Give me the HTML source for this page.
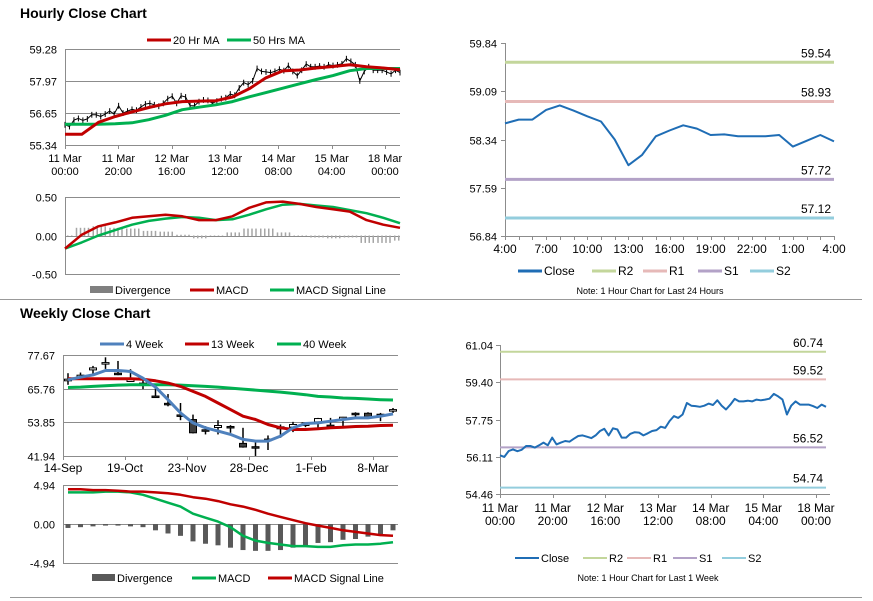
<!DOCTYPE html>
<html><head><meta charset="utf-8"><style>
body{margin:0;background:#fff;}
svg{display:block;font-family:"Liberation Sans",Arial,sans-serif;}
</style></head><body>
<svg id="s" width="873" height="601" viewBox="0 0 873 601" xmlns="http://www.w3.org/2000/svg">
<text x="20" y="18" font-size="14" font-weight="bold" fill="#000">Hourly Close Chart</text>
<text x="20" y="318" font-size="14" font-weight="bold" fill="#000">Weekly Close Chart</text>
<line x1="0" y1="299.5" x2="862" y2="299.5" stroke="#999"/>
<line x1="10" y1="597.5" x2="862" y2="597.5" stroke="#999"/>
</svg>
<script>
// ---------- data ----------
const weekClose = [56.17,56.10,56.36,56.43,56.35,56.41,56.58,56.58,56.51,56.61,56.73,56.61,56.95,56.65,56.73,56.80,56.77,56.90,57.02,57.05,56.99,56.93,57.05,57.24,57.34,57.05,57.36,57.31,56.95,56.95,57.12,57.19,57.17,57.05,57.14,57.24,57.28,57.43,57.38,57.68,57.90,57.82,57.97,58.48,58.36,58.34,58.31,58.36,58.45,58.39,58.60,58.36,58.19,58.41,58.66,58.55,58.55,58.58,58.55,58.63,58.60,58.63,58.67,58.88,58.77,58.63,57.97,58.36,58.55,58.41,58.41,58.41,58.34,58.26,58.41,58.31];
const ma20 = [55.78,55.78,56.27,56.51,56.70,56.88,57.03,57.12,57.14,57.16,57.31,57.65,58.10,58.38,58.42,58.50,58.56,58.63,58.55,58.50,58.43];
const ma50 = [56.19,56.19,56.19,56.21,56.25,56.38,56.56,56.79,56.89,56.99,57.12,57.32,57.49,57.67,57.85,58.03,58.19,58.39,58.48,58.48,58.48];
const hMacd = [-0.17,0.01,0.12,0.17,0.23,0.25,0.27,0.25,0.20,0.20,0.25,0.36,0.43,0.44,0.41,0.37,0.34,0.31,0.20,0.14,0.10];
const hSignal = [-0.17,-0.09,0.00,0.07,0.14,0.19,0.22,0.24,0.23,0.20,0.21,0.27,0.34,0.40,0.41,0.39,0.37,0.33,0.29,0.23,0.16];
const hDiv = [0,0.10,0.12,0.10,0.09,0.06,0.05,0.01,-0.03,0,0.04,0.09,0.09,0.04,0,-0.02,-0.03,-0.02,-0.09,-0.09,-0.06];
const hourCats = ["4:00","5:00","6:00","7:00","8:00","9:00","10:00","11:00","12:00","13:00","14:00","15:00","16:00","17:00","18:00","19:00","20:00","21:00","22:00","23:00","0:00","1:00","2:00","3:00","4:00"];
const dayClose = [58.59,58.65,58.65,58.80,58.87,58.79,58.70,58.62,58.34,57.94,58.10,58.39,58.48,58.56,58.51,58.41,58.42,58.39,58.39,58.39,58.41,58.23,58.32,58.41,58.31];
const dayLevels = [59.54,58.93,57.72,57.12];
const weekLevels = [60.74,59.52,56.52,54.74];
const levelNames = ["R2","R1","S1","S2"];
const levelColors = ["#c3d69b","#e6b9b8","#b3a2c7","#93cddd"];
const hourTicks = [["11 Mar","00:00"],["11 Mar","20:00"],["12 Mar","16:00"],["13 Mar","12:00"],["14 Mar","08:00"],["15 Mar","04:00"],["18 Mar","00:00"]];
const wOpen = [68.54,69.82,72.40,74.51,71.23,68.30,67.72,63.15,60.57,56.47,54.84,51.21,52.03,52.38,46.40,45.23,47.93,51.56,52.14,52.73,54.02,52.84,54.84,57.06,57.06,56.71,57.88];
const wClose = [69.12,70.53,73.10,74.98,70.76,69.47,67.37,62.92,60.34,56.24,50.15,50.97,52.73,51.91,45.12,45.00,47.69,52.26,53.08,53.66,55.19,52.61,55.66,56.83,55.77,56.47,58.35];
const wHigh = [71.23,71.46,73.81,76.85,75.56,72.63,68.89,66.78,63.85,60.69,56.59,52.49,54.60,52.84,51.91,46.87,49.21,53.08,54.02,53.90,55.42,55.42,55.77,57.41,57.41,57.18,58.93];
const wLow = [67.13,68.89,71.00,72.75,70.53,68.18,65.61,62.68,59.52,54.60,49.92,49.57,49.57,50.15,44.88,41.95,44.06,48.39,50.39,52.14,51.56,52.14,51.91,55.42,55.19,54.25,57.18];
const wk4 = [68.89,69.82,70.64,72.17,72.17,71.82,69.47,66.31,61.86,57.18,53.66,51.91,50.74,49.57,47.81,47.22,47.22,48.98,51.91,53.43,53.66,54.25,54.84,55.42,55.42,56.01,56.83];
const wk13 = [69.24,69.24,69.24,69.24,69.24,69.24,69.12,68.54,67.72,66.55,64.79,63.03,60.69,58.35,56.01,54.84,53.08,51.91,51.32,51.32,51.56,51.91,52.14,52.38,52.49,52.73,52.84];
const wk40 = [66.19,66.31,66.55,66.78,67.01,67.13,67.13,67.13,67.13,67.01,66.78,66.55,66.31,65.96,65.61,65.26,64.91,64.55,64.09,63.62,63.03,62.80,62.45,62.33,62.10,61.86,61.74];
const wMacd = [4.0,4.0,4.0,4.1,4.1,4.0,3.7,3.2,2.7,2.2,1.3,0.8,0.3,-0.4,-1.5,-2.1,-2.4,-2.6,-2.8,-2.8,-2.9,-2.9,-2.7,-2.6,-2.6,-2.5,-2.3];
const wSignal = [4.4,4.4,4.3,4.3,4.2,4.1,4.1,4.0,3.9,3.7,3.4,3.2,2.9,2.5,2.2,1.8,1.3,0.9,0.5,0.1,-0.2,-0.5,-0.8,-1.0,-1.2,-1.4,-1.5];
const wDiv = [-0.5,-0.4,-0.3,-0.2,-0.2,-0.3,-0.4,-0.8,-1.2,-1.5,-2.2,-2.5,-2.7,-3.0,-3.3,-3.4,-3.4,-3.3,-3.0,-2.7,-2.4,-2.3,-2.0,-1.9,-1.6,-1.3,-0.8];
const weekTicks = ["14-Sep","19-Oct","23-Nov","28-Dec","1-Feb","8-Mar"];

// ---------- helpers ----------
const S = document.getElementById('s');
const NS = 'http://www.w3.org/2000/svg';
function mk(tag, attrs){ const e=document.createElementNS(NS,tag); for(const k in attrs) e.setAttribute(k,attrs[k]); S.appendChild(e); return e; }
function lin(d0,d1,r0,r1){ return v => r0 + (v-d0)/(d1-d0)*(r1-r0); }
function txt(x,y,s,anchor,size){ const t=mk('text',{x:x,y:y,'font-size':size||11,'text-anchor':anchor||'start',fill:'#000'}); t.textContent=s; return t; }
function poly(vals, xf, yf, color, w, name){
  const p = vals.map((v,i)=>xf(i).toFixed(1)+','+yf(v).toFixed(1)).join(' ');
  const e = mk('polyline',{points:p,fill:'none',stroke:color,'stroke-width':w,'stroke-linejoin':'round'});
  
  
  return e;
}
function hl(x1,x2,y,color,w){ return mk('line',{x1:x1,x2:x2,y1:y,y2:y,stroke:color,'stroke-width':w||1}); }
function vl(x,y1,y2,color,w){ return mk('line',{x1:x,x2:x,y1:y1,y2:y2,stroke:color,'stroke-width':w||1}); }
function legendLine(x,y,color,label,w,name,size){
  const l = hl(x,x+24,y,color,w||3);
  
  
  const t = txt(x+26,y+4,label,'start',size||11);
  
  
}
function yAxisGrid(vals, yf, x0, x1, lx, grid){
  vals.forEach(v=>{
    const y=Math.round(yf(v))+0.5;
    if(grid) hl(x0,x1,y,'#8c8c8c',1); else hl(x0-4,x0,y,'#8c8c8c',1);
    const t=txt(lx,y+4,v.toFixed(2),'end');
    
    
  });
}

// ---------- Chart A: hourly price ----------
(function(){
  const x0=65,x1=400, yA=lin(55.34,59.28,145,49);
  yAxisGrid([59.28,57.97,56.65,55.34], yA, x0, x1, 57, true);
  vl(x0+0.5,49,149,'#8c8c8c');
  hourTicks.forEach((t,i)=>{
    const x = x0 + i*(x1-x0-15)/6;
    vl(Math.round(x)+0.5,145,149,'#8c8c8c');
    const a=txt(x,162,t[0],'middle');  
    const b=txt(x,175,t[1],'middle');  
  });
  const xc = i => x0 + i*(x1-x0)/(weekClose.length-1);
  weekClose.forEach((v,i)=>{
    const w=vl(xc(i),yA(v+0.12),yA(v-0.12),'#000',1);
    
    
  });
  poly(weekClose, xc, yA, '#000', 1, 'close-price-line');
  const xm = i => x0 + i*(x1-x0)/(ma20.length-1);
  poly(ma50, xm, yA, '#00b050', 3, 'ma-50-line');
  poly(ma20, xm, yA, '#c00000', 3, 'ma-20-line');
  legendLine(147,40,'#c00000','20 Hr MA',3,'legend-20hr-ma');
  legendLine(227,40,'#00b050','50 Hrs MA',3,'legend-50hrs-ma');
})();

// ---------- Chart B: hourly MACD ----------
(function(){
  const x0=65,x1=400, yB=lin(-0.5,0.5,274,197);
  yAxisGrid([0.5,0,-0.5], yB, x0, x1, 57, true);
  vl(x0+0.5,197,274,'#8c8c8c');
  const xm = i => x0 + i*(x1-x0)/(hDiv.length-1);
  hDiv.forEach((v,i)=>{
    for(let k=0;k<4;k++){
      const bx = xm(i) - 6 + k*4;
      if(bx<x0+2||bx>x1) continue;
      const b=mk('rect',{x:bx,y:Math.min(yB(0),yB(v)),width:1.5,height:Math.abs(yB(v)-yB(0))+0.5,fill:'#a6a6a6'});
      
      
    }
  });
  poly(hSignal, xm, yB, '#00b050', 2.5, 'macd-signal-line');
  poly(hMacd, xm, yB, '#c00000', 2.5, 'macd-line');
  const r=mk('rect',{x:90,y:286,width:23,height:7,fill:'#7f7f7f'});  
  const t=txt(115,294,'Divergence');  
  legendLine(190,290,'#c00000','MACD',3,'legend-macd');
  legendLine(270,290,'#00b050','MACD Signal Line',3,'legend-macd-signal');
})();

// ---------- Chart C: last 24 hours ----------
(function(){
  const x0=505,x1=834, yC=lin(56.84,59.84,236,43);
  yAxisGrid([59.84,59.09,58.34,57.59,56.84], yC, x0, x1, 497, false);
  vl(x0+0.5,43,236,'#8c8c8c'); hl(x0,x1,236.5,'#8c8c8c');
  const xc = i => x0 + i*(x1-x0)/(hourCats.length-1);
  hourCats.forEach((c,i)=>{ vl(Math.round(xc(i))+0.5,236,240,'#8c8c8c');
    if(i%3===0){ const t=txt(xc(i),253,c,'middle',12);   } });
  dayLevels.forEach((v,i)=>{
    const l=hl(x0,x1,yC(v),levelColors[i],3);
    
    
    const t=txt(x1-3,yC(v)-5,v.toFixed(2),'end',12);
    
    
  });
  poly(dayClose, xc, yC, '#1f6db5', 2, 'close-line-24h');
  legendLine(518,271,'#1f6db5','Close',3,'legend-close',12);
  const lx=[592,643,698,750];
  levelNames.forEach((n,i)=>legendLine(lx[i],271,levelColors[i],n,3,'legend-'+n.toLowerCase(),12));
  const n=txt(650,294,'Note: 1 Hour Chart for Last 24 Hours','middle',9);  
})();

// ---------- Chart D: last week ----------
(function(){
  const x0=500,x1=826, yD=lin(54.46,61.04,494,345);
  yAxisGrid([61.04,59.40,57.75,56.11,54.46], yD, x0, x1, 493, false);
  vl(x0+0.5,345,494,'#8c8c8c'); hl(x0,x1+4,494.5,'#8c8c8c');
  hourTicks.forEach((t,i)=>{
    const x = x0 + i*(x1-x0-10)/6;
    vl(Math.round(x)+0.5,494,498,'#8c8c8c');
    const a=txt(x,512,t[0],'middle',12);  
    const b=txt(x,525,t[1],'middle',12);  
  });
  weekLevels.forEach((v,i)=>{
    const l=hl(x0,x1,yD(v),levelColors[i],2);
    
    
    const t=txt(x1-3,yD(v)-5,v.toFixed(2),'end',12);
    
    
  });
  const xc = i => x0 + i*(x1-x0)/(weekClose.length-1);
  poly(weekClose, xc, yD, '#1f6db5', 2, 'close-line-week');
  legendLine(515,558,'#1f6db5','Close',2,'legend-close-week');
  const lx=[583,627,673,722];
  levelNames.forEach((n,i)=>legendLine(lx[i],558,levelColors[i],n,2,'legend-week-'+n.toLowerCase()));
  const n=txt(648,581,'Note: 1 Hour Chart for Last 1 Week','middle',9);  
})();

// ---------- Chart E: weekly candles ----------
(function(){
  const x0=63,x1=398, yE=lin(41.94,77.67,456,355);
  yAxisGrid([77.67,65.76,53.85,41.94], yE, x0, x1, 55, true);
  vl(x0+0.5,355,456,'#8c8c8c');
  weekTicks.forEach((t,i)=>{ const x=x0+i*62; vl(x+0.5,456,460,'#8c8c8c');
    const a=txt(x,472,t,'middle',12);   });
  const xw = i => 68 + i*(393-68)/(wOpen.length-1);
  wOpen.forEach((o,i)=>{
    const c=wClose[i], x=xw(i);
    const w=vl(x,yE(wHigh[i]),yE(wLow[i]),'#000',1.5);
    
    
    const top=yE(Math.max(o,c)), h=Math.max(1.5,Math.abs(yE(o)-yE(c)));
    const b=mk('rect',{x:x-3.5,y:top,width:7,height:h,fill:c>=o?'#fff':'#404040',stroke:'#000','stroke-width':1});
    
    
  });
  poly(wk40, xw, yE, '#00b050', 3, 'ma-40-week');
  poly(wk13, xw, yE, '#c00000', 3, 'ma-13-week');
  poly(wk4, xw, yE, '#4f81bd', 3, 'ma-4-week');
  legendLine(100,344,'#4f81bd','4 Week',3,'legend-4-week');
  legendLine(185,344,'#c00000','13 Week',3,'legend-13-week');
  legendLine(277,344,'#00b050','40 Week',3,'legend-40-week');
})();

// ---------- Chart F: weekly MACD ----------
(function(){
  const x0=63,x1=398, yF=lin(-4.94,4.94,563,485);
  yAxisGrid([4.94,0,-4.94], yF, x0, x1, 55, true);
  vl(x0+0.5,485,563,'#8c8c8c');
  const xw = i => 68 + i*(393-68)/(wDiv.length-1);
  wDiv.forEach((v,i)=>{
    const b=mk('rect',{x:xw(i)-2.5,y:Math.min(yF(0),yF(v)),width:5,height:Math.abs(yF(v)-yF(0)),fill:'#595959'});
    
    
  });
  poly(wMacd, xw, yF, '#00b050', 2.5, 'weekly-macd-line');
  poly(wSignal, xw, yF, '#c00000', 2.5, 'weekly-signal-line');
  const r=mk('rect',{x:92,y:574,width:23,height:7,fill:'#595959'});  
  const t=txt(117,582,'Divergence');  
  legendLine(192,578,'#00b050','MACD',3,'legend-weekly-macd');
  legendLine(268,578,'#c00000','MACD Signal Line',3,'legend-weekly-signal');
})();
</script>
</body></html>
